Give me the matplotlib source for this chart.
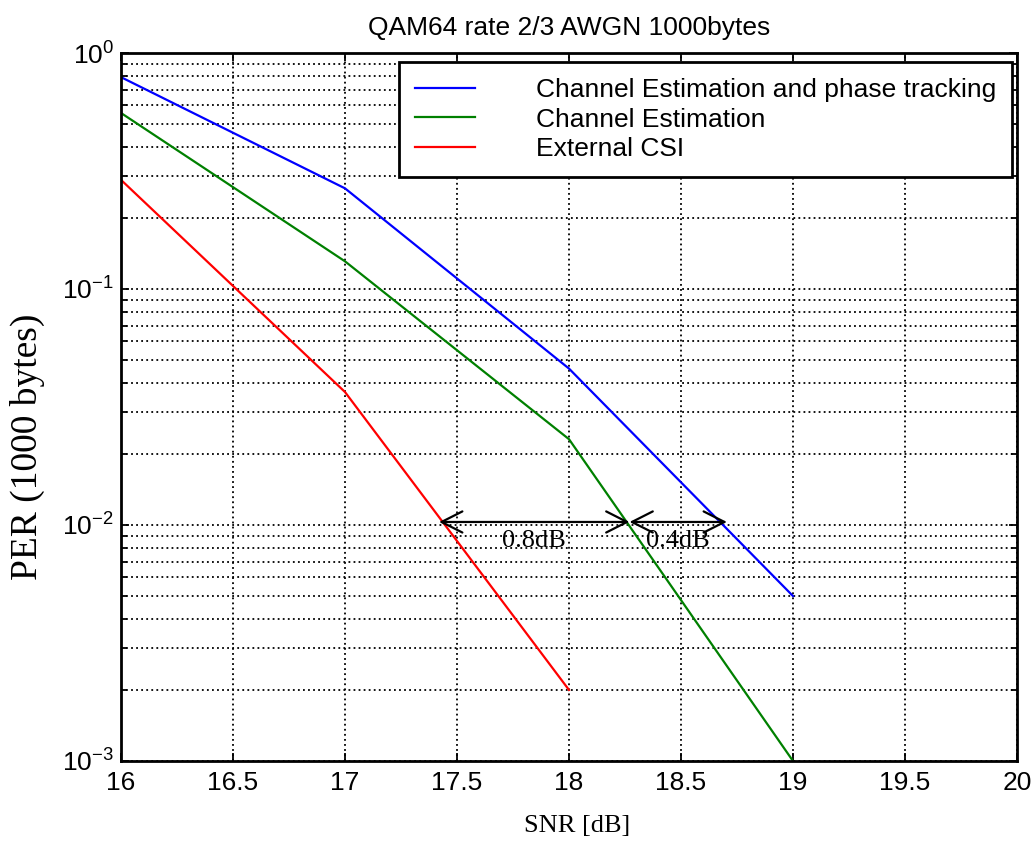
import numpy as np
import matplotlib.pyplot as plt
from matplotlib.ticker import MultipleLocator, LogLocator

# values
snr = [16, 17, 18, 19]
per_ce_pt = [0.79, 0.267, 0.046, 0.005]
per_ce = [0.557, 0.131, 0.0231, 0.001]
snr_csi = [16, 17, 18]
per_csi = [0.29, 0.0366, 0.002]

labels = ['Channel Estimation and phase tracking', 'Channel Estimation', 'External CSI']
colors = ['#0000FF', '#008000', '#FF0000']

# 0.8dB / 0.4dB gaps at PER = 1e-2
gap_points = [17.42, 18.27, 18.705]
gap_level = 0.0103
gap_labels = ['0.8dB', '0.4dB']

sans = 'Liberation Sans'
serif = 'Liberation Serif'
plt.rcParams['font.family'] = sans
plt.rcParams['mathtext.default'] = 'regular'

W, H = 1036, 842
fig = plt.figure(figsize=(W / 100, H / 100), dpi=100)
ax = fig.add_axes([121 / W, 1 - 761 / H, 896 / W, 708 / H])

ax.plot(snr, per_ce_pt, color=colors[0], lw=1.6, label=labels[0])
ax.plot(snr, per_ce, color=colors[1], lw=1.6, label=labels[1])
ax.plot(snr_csi, per_csi, color=colors[2], lw=1.6, label=labels[2])

ax.set_yscale('log')
ax.set_xlim(16, 20)
ax.set_ylim(1e-3, 1)
ax.xaxis.set_major_locator(MultipleLocator(0.5))
ax.yaxis.set_major_locator(LogLocator(base=10))
ax.yaxis.set_minor_locator(LogLocator(base=10, subs=np.arange(2, 10)))
ax.xaxis.set_major_formatter(plt.FuncFormatter(lambda v, p: '%g' % v))
ax.yaxis.set_major_formatter(plt.FuncFormatter(lambda v, p: r'$10^{%d}$' % round(np.log10(v))))

grid_style = dict(color='black', linestyle=(0, (1, 1.8)), linewidth=1.3)
ax.grid(True, which='major', axis='both', **grid_style)
ax.grid(True, which='minor', axis='y', **grid_style)

ax.tick_params(which='both', direction='in', top=True, right=True,
               labelsize=19, width=1.3)
ax.tick_params(which='major', length=6)
ax.tick_params(which='minor', length=4)
ax.tick_params(axis='x', pad=7)
ax.tick_params(axis='y', pad=5)
for lab in ax.get_yticklabels():
    lab.set_va('center_baseline')
for s in ax.spines.values():
    s.set_linewidth(2.0)

# gap arrows
for x0, x1, txt in zip(gap_points[:-1], gap_points[1:], gap_labels):
    ax.annotate('', xy=(x1, gap_level), xytext=(x0, gap_level),
                arrowprops=dict(arrowstyle='<->,head_length=0.75,head_width=0.38',
                                color='black', lw=1.6, shrinkA=0, shrinkB=0,
                                mutation_scale=20))
    ax.text((x0 + x1) / 2, 0.0081, txt, family=serif, fontsize=19,
            ha='center', va='baseline')

leg = ax.legend(loc='upper right', bbox_to_anchor=(1012 / W, 1 - 62 / H),
                bbox_transform=fig.transFigure, borderaxespad=0,
                fontsize=19, frameon=True, fancybox=False, shadow=False,
                handlelength=2.3, handletextpad=2.3, labelspacing=0.22,
                borderpad=0.6)
leg.get_frame().set_edgecolor('black')
leg.get_frame().set_linewidth(2.0)
leg.get_frame().set_alpha(1)

ax.set_title('QAM64 rate 2/3 AWGN 1000bytes', fontsize=19, pad=13)
fig.text(577 / W, 1 - 826 / H, 'SNR [dB]', family=serif, fontsize=19,
         ha='center', va='center')
fig.text(27 / W, 1 - 447 / H, 'PER (1000 bytes)', family=serif, fontsize=27,
         ha='center', va='center', rotation=90)

fig.savefig('out.png', dpi=100)
